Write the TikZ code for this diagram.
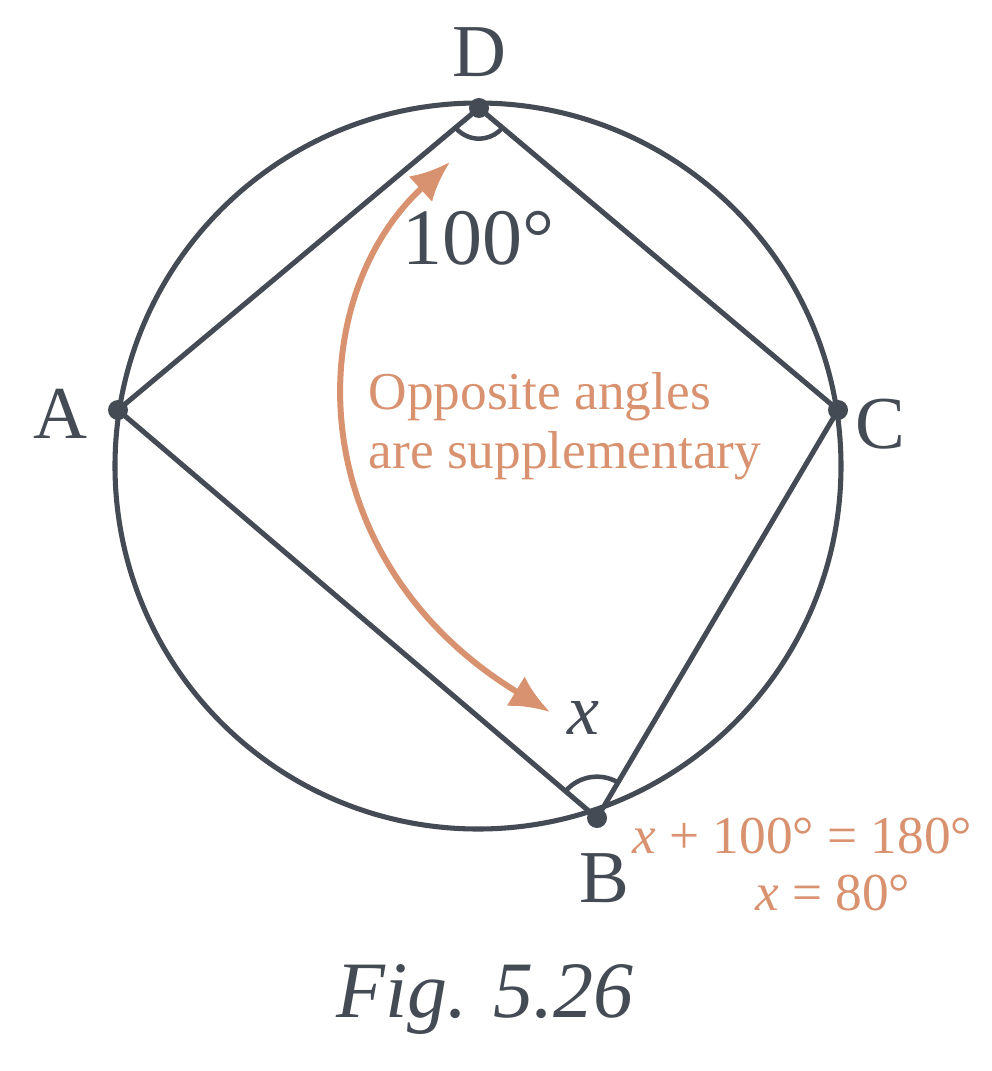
\documentclass[tikz,border=0pt]{standalone}
\usepackage{fontspec}
\setmainfont{Liberation Serif}
\usetikzlibrary{angles,arrows.meta}
\definecolor{ink}{HTML}{454B55}
\definecolor{org}{HTML}{D9926F}
\begin{document}
\begin{tikzpicture}[x=0.75pt,y=-0.75pt,
  line/.style={draw=ink,line width=3.8pt},
  dot/.style={circle,fill=ink,inner sep=0pt,minimum size=15pt},
  lab/.style={text=ink,font=\fontsize{56}{60}\selectfont},
  otext/.style={text=org,font=\fontsize{40}{44}\selectfont}]
\useasboundingbox (0,0) rectangle (992,1071);
\coordinate (O) at (478,466);
\coordinate (A) at (118,410);
\coordinate (C) at (838,410);
\coordinate (D) at (479,108);
\coordinate (B) at (597,818);
\draw[line] (O) circle (363);
\draw[line,line join=round] (A) -- (D) -- (C) -- (B) -- cycle;
\pic[draw=ink,line width=3.4pt,angle radius=23pt] {angle=A--D--C};
\pic[draw=ink,line width=3.4pt,angle radius=31pt] {angle=C--B--A};
\foreach \p in {A,B,C,D} \node[dot] (\p d) at (\p) {};
\node[lab] (lD) at (479,52) {D};
\node[lab] (lA) at (60,414) {A};
\node[lab] (lC) at (880,424) {C};
\node[lab] (lB) at (604,878) {B};
\node[lab,font=\fontsize{60}{64}\selectfont] (l100) at (478,238) {100°};
\node[lab,font=\fontsize{54}{58}\selectfont\itshape] (lx) at (583,718) {x};
\coordinate (s) at (450,162);
\coordinate (e) at (550,712);
\draw[org,line width=4.5pt,{Latex[length=30pt,width=26pt]}-{Latex[length=30pt,width=26pt]}]
  (s) .. controls (300,300) and (300,560) .. (e);
\node[otext,align=left,anchor=west] (t) at (364,426) {Opposite angles\\are supplementary};
\node[otext,anchor=east] (e1) at (977,836) {\itshape x\upshape{} + 100° = 180°};
\node[otext,anchor=east] (e2) at (915,893) {\itshape x\upshape{} = 80°};
\node[lab,font=\fontsize{60}{64}\selectfont\itshape] (fig) at (485,1000) {Fig. 5.26};
\end{tikzpicture}
\end{document}
